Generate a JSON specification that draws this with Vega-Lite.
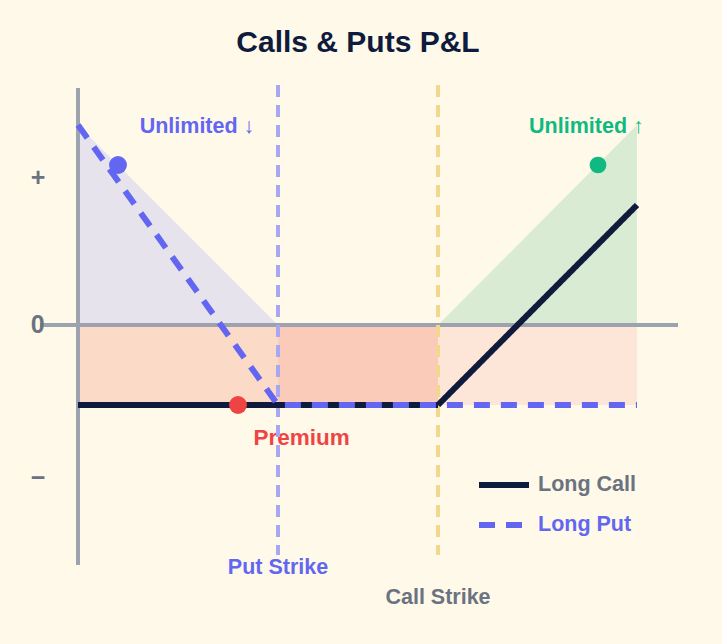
{
  "$schema": "https://vega.github.io/schema/vega-lite/v6.json",
  "width": 722,
  "height": 644,
  "padding": 0,
  "autosize": {"type": "none"},
  "background": "#fef9e8",
  "config": {
    "view": {"stroke": null},
    "font": "Liberation Sans",
    "text": {"font": "Liberation Sans", "fontWeight": "bold", "fontSize": 21.5}
  },
  "title": {
    "text": "Calls & Puts P&L",
    "anchor": "middle",
    "frame": "group",
    "offset": -82,
    "dx": -3,
    "baseline": "alphabetic",
    "fontSize": 30,
    "fontWeight": "bold",
    "color": "#0f1b3d",
    "font": "Liberation Sans"
  },
  "datasets": {
    "pnl": [
      {"series": "Long Call", "s": 0, "p": -20},
      {"series": "Long Call", "s": 90, "p": -20},
      {"series": "Long Call", "s": 139.75, "p": 30},
      {"series": "Long Put", "s": 0, "p": 50},
      {"series": "Long Put", "s": 50, "p": -20},
      {"series": "Long Put", "s": 139.75, "p": -20}
    ],
    "zones": [
      {"zone": "below put strike", "s": 0, "s2": 50, "p": 0, "p2": -20},
      {"zone": "between strikes", "s": 50, "s2": 90, "p": 0, "p2": -20},
      {"zone": "above call strike", "s": 90, "s2": 139.75, "p": 0, "p2": -20}
    ],
    "payoff": [
      {"side": "put", "s": 0, "p": 50, "p2": 0},
      {"side": "put", "s": 50, "p": 0, "p2": 0},
      {"side": "call", "s": 90, "p": 0, "p2": 0},
      {"side": "call", "s": 139.75, "p": 50, "p2": 0}
    ],
    "guides": [
      {"guide": "y axis", "s": 0, "s2": 0, "p": 59.25, "p2": -60},
      {"guide": "x axis", "s": -9.5, "s2": 150, "p": 0, "p2": 0},
      {"guide": "put strike", "s": 50, "s2": 50, "p": 60, "p2": -57.5},
      {"guide": "call strike", "s": 90, "s2": 90, "p": 60, "p2": -57.5}
    ],
    "points": [
      {"point": "put upside", "s": 10, "p": 40},
      {"point": "premium", "s": 40, "p": -20},
      {"point": "call upside", "s": 130, "p": 40}
    ],
    "labels": [
      {"label": "Unlimited ↓", "role": "put", "s": 29.75, "p": 48},
      {"label": "Put Strike", "role": "put", "s": 50, "p": -62.25},
      {"label": "Unlimited ↑", "role": "call", "s": 127.1, "p": 48},
      {"label": "Premium", "role": "premium", "s": 55.9, "p": -30},
      {"label": "Call Strike", "role": "neutral", "s": 90, "p": -69.75}
    ],
    "ticks": [
      {"label": "+", "s": -10, "p": 36.75},
      {"label": "0", "s": -10.1, "p": 0},
      {"label": "−", "s": -10, "p": -38.25}
    ]
  },
  "encoding": {
    "x": {"field": "s", "type": "quantitative", "scale": {"domain": [-19.5, 161], "nice": false, "zero": false}, "axis": null},
    "y": {"field": "p", "type": "quantitative", "scale": {"domain": [-79.75, 81.25], "nice": false, "zero": false}, "axis": null}
  },
  "layer": [
    {
      "data": {"name": "zones"},
      "transform": [{"filter": "datum.zone === 'below put strike'"}],
      "mark": {"type": "rect", "color": "#fcdac8"},
      "encoding": {"x2": {"field": "s2"}, "y2": {"field": "p2"}}
    },
    {
      "data": {"name": "zones"},
      "transform": [{"filter": "datum.zone === 'between strikes'"}],
      "mark": {"type": "rect", "color": "#fbcbba"},
      "encoding": {"x2": {"field": "s2"}, "y2": {"field": "p2"}}
    },
    {
      "data": {"name": "zones"},
      "transform": [{"filter": "datum.zone === 'above call strike'"}],
      "mark": {"type": "rect", "color": "#fde6d8"},
      "encoding": {"x2": {"field": "s2"}, "y2": {"field": "p2"}}
    },
    {
      "data": {"name": "payoff"},
      "transform": [{"filter": "datum.side === 'put'"}],
      "mark": {"type": "area", "color": "#e6e3ec", "opacity": 1},
      "encoding": {"y2": {"field": "p2"}}
    },
    {
      "data": {"name": "payoff"},
      "transform": [{"filter": "datum.side === 'call'"}],
      "mark": {"type": "area", "color": "#d9ebd2", "opacity": 1},
      "encoding": {"y2": {"field": "p2"}}
    },
    {
      "data": {"name": "guides"},
      "transform": [{"filter": "datum.guide === 'x axis' || datum.guide === 'y axis'"}],
      "mark": {"type": "rule", "color": "#9ca3af", "strokeWidth": 4},
      "encoding": {"x2": {"field": "s2"}, "y2": {"field": "p2"}}
    },
    {
      "data": {"name": "labels"},
      "transform": [{"filter": "datum.role === 'put'"}],
      "mark": {"type": "text", "color": "#6366f1", "baseline": "alphabetic", "align": "center"},
      "encoding": {"text": {"field": "label"}}
    },
    {
      "data": {"name": "labels"},
      "transform": [{"filter": "datum.role === 'call'"}],
      "mark": {"type": "text", "color": "#10b981", "baseline": "alphabetic", "align": "center"},
      "encoding": {"text": {"field": "label"}}
    },
    {
      "data": {"name": "labels"},
      "transform": [{"filter": "datum.role === 'premium'"}],
      "mark": {"type": "text", "color": "#ef4444", "baseline": "alphabetic", "align": "center", "fontSize": 22.5},
      "encoding": {"text": {"field": "label"}}
    },
    {
      "data": {"name": "labels"},
      "transform": [{"filter": "datum.role === 'neutral'"}],
      "mark": {"type": "text", "color": "#6b7280", "baseline": "alphabetic", "align": "center"},
      "encoding": {"text": {"field": "label"}}
    },
    {
      "data": {"name": "ticks"},
      "mark": {"type": "text", "color": "#6b7280", "baseline": "middle", "align": "center", "fontSize": 25},
      "encoding": {"text": {"field": "label"}}
    },
    {
      "data": {"name": "guides"},
      "transform": [{"filter": "datum.guide === 'put strike'"}],
      "mark": {"type": "rule", "color": "#a9a7f2", "strokeWidth": 4, "strokeDash": [12, 8]},
      "encoding": {"x2": {"field": "s2"}, "y2": {"field": "p2"}}
    },
    {
      "data": {"name": "guides"},
      "transform": [{"filter": "datum.guide === 'call strike'"}],
      "mark": {"type": "rule", "color": "#f2d78c", "strokeWidth": 4, "strokeDash": [12, 8]},
      "encoding": {"x2": {"field": "s2"}, "y2": {"field": "p2"}}
    },
    {
      "data": {"name": "pnl"},
      "mark": {"type": "line", "strokeWidth": 6, "strokeCap": "butt", "strokeJoin": "miter"},
      "encoding": {
        "color": {
          "field": "series",
          "type": "nominal",
          "scale": {"domain": ["Long Call", "Long Put"], "range": ["#0f1b3d", "#6366f1"]},
          "legend": {
            "orient": "none",
            "legendX": 476,
            "legendY": 457,
            "title": null,
            "symbolType": "stroke",
            "symbolSize": 2500,
            "symbolStrokeWidth": 6,
            "labelFontSize": 21.5,
            "labelFont": "Liberation Sans",
            "labelFontWeight": "bold",
            "labelOffset": 6,
            "rowPadding": -16,
            "padding": 0,
            "encode": {"labels": {"update": {"fill": {"signal": "datum.value === 'Long Put' ? '#6366f1' : '#6b7280'"}}}}
          }
        },
        "strokeDash": {
          "field": "series",
          "type": "nominal",
          "scale": {"domain": ["Long Call", "Long Put"], "range": [[1, 0], [16, 11]]},
          "legend": {
            "orient": "none",
            "legendX": 476,
            "legendY": 457,
            "title": null,
            "symbolType": "stroke",
            "symbolSize": 2500,
            "symbolStrokeWidth": 6,
            "labelFontSize": 21.5,
            "labelFont": "Liberation Sans",
            "labelFontWeight": "bold",
            "labelOffset": 6,
            "rowPadding": -16,
            "padding": 0,
            "encode": {"labels": {"update": {"fill": {"signal": "datum.value === 'Long Put' ? '#6366f1' : '#6b7280'"}}}}
          }
        }
      }
    },
    {
      "data": {"name": "points"},
      "transform": [{"filter": "datum.point === 'put upside'"}],
      "mark": {"type": "circle", "color": "#6366f1", "size": 320, "opacity": 1}
    },
    {
      "data": {"name": "points"},
      "transform": [{"filter": "datum.point === 'premium'"}],
      "mark": {"type": "circle", "color": "#ef4444", "size": 320, "opacity": 1}
    },
    {
      "data": {"name": "points"},
      "transform": [{"filter": "datum.point === 'call upside'"}],
      "mark": {"type": "circle", "color": "#10b981", "size": 280, "opacity": 1}
    }
  ]
}
